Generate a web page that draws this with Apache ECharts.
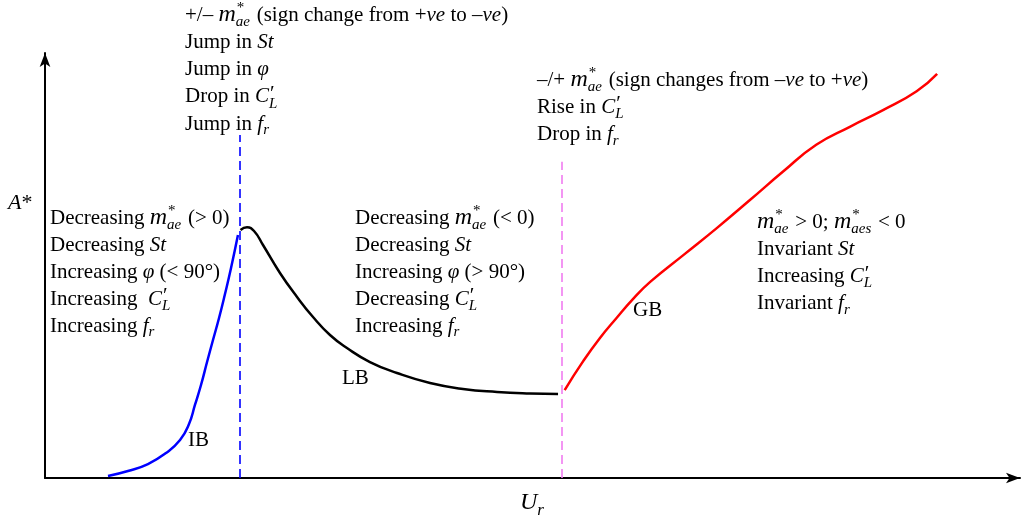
<!DOCTYPE html>
<html>
<head>
<meta charset="utf-8">
<script src="https://cdn.jsdelivr.net/npm/echarts@6/dist/echarts.min.js"></script>
<style>
  html, body { margin: 0; padding: 0; background: #fff; }
  #chart { width: 1021px; height: 519px; }
</style>
</head>
<body>
<div id="chart"></div>
<script>
// Regime curves of A* against U_r (schematic units)
const ibCurve = [
  [0.646, 0.047], [0.851, 0.165], [1.056, 0.329], [1.241, 0.588], [1.385, 0.894],
  [1.477, 1.271], [1.538, 1.718], [1.600, 2.188], [1.662, 2.729], [1.723, 3.247],
  [1.785, 3.765], [1.846, 4.329], [1.908, 4.941], [1.979, 5.718]
];
const lbCurve = [
  [2.005, 5.835], [2.072, 5.899], [2.144, 5.812], [2.236, 5.482], [2.410, 4.824],
  [2.585, 4.259], [2.749, 3.788], [2.923, 3.365], [3.097, 3.059], [3.333, 2.729],
  [3.610, 2.471], [3.949, 2.235], [4.287, 2.094], [4.636, 2.024], [4.974, 1.988],
  [5.262, 1.976]
];
const gbCurve = [
  [5.33, 2.07], [5.52, 2.75], [5.69, 3.29], [5.86, 3.76], [6.03, 4.21],
  [6.21, 4.62], [6.55, 5.25], [6.89, 5.88], [7.23, 6.54], [7.57, 7.21],
  [7.91, 7.84], [8.26, 8.27], [8.60, 8.66], [8.94, 9.10], [9.15, 9.51]
];
// Regime boundaries: U_r position and the height the dashed line reaches
const boundaryU = [2.0, 5.3];
const boundaryTop = [8.07, 7.44];

const FONT = '"Liberation Serif", "Times New Roman", serif';
const SZ = 21;
const mctx = document.createElement('canvas').getContext('2d');
function fontOf(italic, size) { return (italic ? 'italic ' : '') + size + 'px ' + FONT; }
function textWidth(t, italic, size) { mctx.font = fontOf(italic, size); return mctx.measureText(t).width; }
function textEl(t, x, y, italic, size) {
  return {
    type: 'text', x: x, y: y, silent: true,
    style: {
      text: t, font: fontOf(italic, size), fill: '#000',
      textAlign: 'left', align: 'left',
      textVerticalAlign: 'middle', verticalAlign: 'middle'
    }
  };
}
// Token kinds: ['n', text] upright, ['i', text, size?] italic,
// ['ss', sup, sub] stacked super/subscript, ['pr', sub] prime over a subscript,
// ['sub', text] italic subscript
function lineEls(x0, y, tokens, size) {
  size = size || SZ;
  const small = Math.round(size * 0.72);
  const out = [];
  let x = x0;
  tokens.forEach(function (tk) {
    if (tk[0] === 'n' || tk[0] === 'i') {
      const it = tk[0] === 'i';
      const s = tk[2] || size;
      out.push(textEl(tk[1], x, y, it, s));
      x += textWidth(tk[1], it, s);
    } else if (tk[0] === 'ss') {
      out.push(textEl(tk[1], x + 1, y - size * 0.34, false, small));
      out.push(textEl(tk[2], x, y + size * 0.32, true, small));
      x += Math.max(textWidth(tk[1], false, small) + 1, textWidth(tk[2], true, small)) + 1.5;
    } else if (tk[0] === 'pr') {
      out.push(textEl('′', x + 1, y - size * 0.12, false, size));
      out.push(textEl(tk[1], x, y + size * 0.32, true, small));
      x += Math.max(textWidth('′', false, size) + 1, textWidth(tk[1], true, small)) + 1.5;
    } else if (tk[0] === 'sub') {
      out.push(textEl(tk[1], x, y + size * 0.3, true, small));
      x += textWidth(tk[1], true, small) + 1;
    }
  });
  return out;
}
function blockEls(x0, y0, dy, lines) {
  let els = [];
  lines.forEach(function (tokens, k) { els = els.concat(lineEls(x0, y0 + k * dy, tokens)); });
  return els;
}
const M = [['i', 'm', 24], ['ss', '*', 'ae']];
const CL = [['i', 'C'], ['pr', 'L']];
const FR = [['i', 'f'], ['sub', 'r']];

const notes = []
  .concat(blockEls(185, 15, 27.3, [
    [['n', '+/– ']].concat(M, [['n', ' (sign change from +'], ['i', 've'], ['n', ' to –'], ['i', 've'], ['n', ')']]),
    [['n', 'Jump in '], ['i', 'St']],
    [['n', 'Jump in '], ['i', 'φ']],
    [['n', 'Drop in ']].concat(CL),
    [['n', 'Jump in ']].concat(FR)
  ]))
  .concat(blockEls(537, 80, 27.3, [
    [['n', '–/+ ']].concat(M, [['n', ' (sign changes from –'], ['i', 've'], ['n', ' to +'], ['i', 've'], ['n', ')']]),
    [['n', 'Rise in ']].concat(CL),
    [['n', 'Drop in ']].concat(FR)
  ]))
  .concat(blockEls(50, 218, 27, [
    [['n', 'Decreasing ']].concat(M, [['n', ' (> 0)']]),
    [['n', 'Decreasing '], ['i', 'St']],
    [['n', 'Increasing '], ['i', 'φ'], ['n', ' (< 90°)']],
    [['n', 'Increasing  ']].concat(CL),
    [['n', 'Increasing ']].concat(FR)
  ]))
  .concat(blockEls(355, 218, 27, [
    [['n', 'Decreasing ']].concat(M, [['n', ' (< 0)']]),
    [['n', 'Decreasing '], ['i', 'St']],
    [['n', 'Increasing '], ['i', 'φ'], ['n', ' (> 90°)']],
    [['n', 'Decreasing ']].concat(CL),
    [['n', 'Increasing ']].concat(FR)
  ]))
  .concat(blockEls(757, 222, 27.3, [
    M.concat([['n', ' > 0; '], ['i', 'm', 24], ['ss', '*', 'aes'], ['n', ' < 0']]),
    [['n', 'Invariant '], ['i', 'St']],
    [['n', 'Increasing ']].concat(CL),
    [['n', 'Invariant ']].concat(FR)
  ]))
  .concat(lineEls(188, 440, [['n', 'IB']]))
  .concat(lineEls(342, 378, [['n', 'LB']]))
  .concat(lineEls(633, 310, [['n', 'GB']]))
  .concat(lineEls(8, 203, [['i', 'A'], ['n', '*']], 22))
  .concat(lineEls(520, 503, [['i', 'U'], ['sub', 'r']], 24));

const chart = echarts.init(document.getElementById('chart'), null, { renderer: 'canvas' });

function dashed(idx, color) {
  return {
    silent: true, symbol: ['none', 'none'],
    label: { show: false },
    lineStyle: { color: color, type: [9, 5], width: 1.6 },
    data: [[{ coord: [boundaryU[idx], 0] }, { coord: [boundaryU[idx], boundaryTop[idx]] }]]
  };
}

const axisCommon = {
  type: 'value', min: 0, max: 10,
  axisLine: { show: true, symbol: ['none', 'arrow'], symbolSize: [8, 14], lineStyle: { color: '#000', width: 2 } },
  axisTick: { show: false }, axisLabel: { show: false }, splitLine: { show: false }
};

chart.setOption({
  animation: false,
  backgroundColor: '#fff',
  grid: { left: 45, top: 53, width: 975, height: 425 },
  xAxis: Object.assign({}, axisCommon),
  yAxis: Object.assign({}, axisCommon),
  series: [
    { type: 'line', data: ibCurve, showSymbol: false, smooth: 0.5,
      lineStyle: { color: '#0000ff', width: 2.5 }, markLine: dashed(0, '#0000ff') },
    { type: 'line', data: lbCurve, showSymbol: false, smooth: 0.5,
      lineStyle: { color: '#000', width: 2.5 } },
    { type: 'line', data: gbCurve, showSymbol: false, smooth: 0.5,
      lineStyle: { color: '#ff0000', width: 2.5 }, markLine: dashed(1, '#f07cf0') }
  ],
  graphic: notes
});
</script>
</body>
</html>
